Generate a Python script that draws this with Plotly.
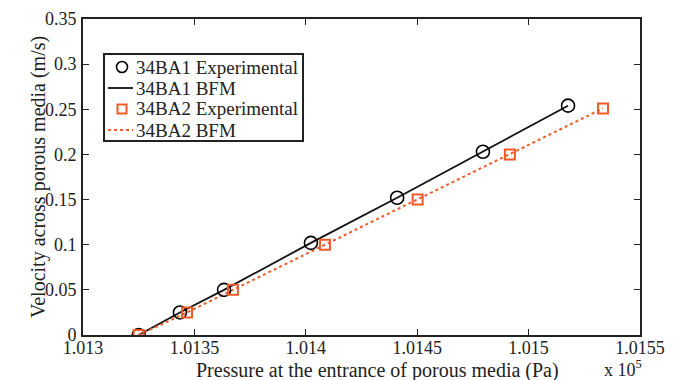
import plotly.graph_objects as go

# 34BA1 data (pressure in units of 1e5 Pa, velocity m/s)
p1 = [1.01325, 1.013435, 1.013633, 1.014023, 1.01441, 1.014795, 1.015177]
v1 = [0.0, 0.025, 0.050, 0.102, 0.152, 0.203, 0.254]
# 34BA2 data
p2 = [1.01325, 1.013467, 1.013673, 1.014086, 1.014502, 1.014916, 1.015334]
v2 = [0.0, 0.025, 0.050, 0.100, 0.150, 0.200, 0.251]

xticks = [1.013, 1.0135, 1.014, 1.0145, 1.015, 1.0155]
xticklabels = ["1.013", "1.0135", "1.014", "1.0145", "1.015", "1.0155"]
yticks = [0, 0.05, 0.1, 0.15, 0.2, 0.25, 0.3, 0.35]
yticklabels = ["0", "0.05", "0.1", "0.15", "0.2", "0.25", "0.3", "0.35"]

legend_names = ["34BA1 Experimental", "34BA1 BFM", "34BA2 Experimental", "34BA2 BFM"]

orange = "#F05A28"
font = "Liberation Serif"
ink = "#222222"

W, H = 678, 380
ML, MR, MT, MB = 83, 38, 19, 45
PW, PH = W - ML - MR, H - MT - MB


def px_x(px):
    return (px - ML) / PW


def px_y(py):
    return (H - MB - py) / PH


fig = go.Figure()
fig.add_trace(go.Scatter(x=p1, y=v1, mode="lines", name=legend_names[1],
                         line=dict(color="#111111", width=1.8)))
fig.add_trace(go.Scatter(x=p2, y=v2, mode="lines", name=legend_names[3],
                         line=dict(color=orange, width=2, dash="dot")))
fig.add_trace(go.Scatter(x=p1, y=v1, mode="markers", name=legend_names[0],
                         marker=dict(symbol="circle-open", size=13, color="black",
                                     line=dict(width=1.6, color="black"))))
fig.add_trace(go.Scatter(x=p2, y=v2, mode="markers", name=legend_names[2],
                         marker=dict(symbol="square-open", size=10, color=orange,
                                     line=dict(width=2, color=orange))))

axis_common = dict(showgrid=False, zeroline=False, showline=True, linecolor=ink,
                   linewidth=2, mirror="ticks", ticks="inside", ticklen=6,
                   tickcolor=ink, tickwidth=1, automargin=False,
                   tickfont=dict(family=font, size=18, color=ink))

fig.update_xaxes(range=[1.013, 1.0155], tickvals=xticks, ticktext=xticklabels,
                 ticklabelstandoff=-5, **axis_common)
fig.update_yaxes(range=[0, 0.35], tickvals=yticks, ticktext=yticklabels,
                 ticklabelstandoff=1, **axis_common)

fig.add_annotation(x=px_x(38), y=px_y(177), xref="paper", yref="paper",
                   xanchor="center", yanchor="middle", showarrow=False, textangle=-90,
                   text="Velocity across porous media (m/s)",
                   font=dict(family=font, size=20, color=ink))
fig.add_annotation(x=px_x(377), y=px_y(370), xref="paper", yref="paper",
                   xanchor="center", yanchor="middle", showarrow=False,
                   text="Pressure at the entrance of porous media (Pa)",
                   font=dict(family=font, size=20, color=ink))
fig.add_annotation(x=px_x(644), y=px_y(368), xref="paper", yref="paper",
                   xanchor="right", yanchor="middle", showarrow=False,
                   text="x 10<sup>5</sup>", font=dict(family=font, size=18, color=ink))

# Custom legend box (compact spacing as in the reference)
shapes = [dict(type="rect", xref="paper", yref="paper",
               x0=px_x(104), x1=px_x(303), y0=px_y(141), y1=px_y(54),
               line=dict(color=ink, width=2), fillcolor="white", layer="above")]
rows = [67, 88, 109, 130]
r = 5.5
shapes.append(dict(type="circle", xref="paper", yref="paper",
                   x0=px_x(122 - r), x1=px_x(122 + r), y0=px_y(rows[0] + r), y1=px_y(rows[0] - r),
                   line=dict(color="black", width=1.6), layer="above"))
shapes.append(dict(type="line", xref="paper", yref="paper",
                   x0=px_x(108), x1=px_x(133), y0=px_y(rows[1]), y1=px_y(rows[1]),
                   line=dict(color="#111111", width=1.8), layer="above"))
s = 4.5
shapes.append(dict(type="rect", xref="paper", yref="paper",
                   x0=px_x(122 - s), x1=px_x(122 + s), y0=px_y(rows[2] + s), y1=px_y(rows[2] - s),
                   line=dict(color=orange, width=2), layer="above"))
shapes.append(dict(type="line", xref="paper", yref="paper",
                   x0=px_x(108), x1=px_x(133), y0=px_y(rows[3]), y1=px_y(rows[3]),
                   line=dict(color=orange, width=2, dash="dot"), layer="above"))

for name, ry in zip(legend_names, rows):
    fig.add_annotation(x=px_x(134), y=px_y(ry), xref="paper", yref="paper",
                       xanchor="left", yanchor="middle", showarrow=False,
                       text=name, font=dict(family=font, size=19, color=ink))

fig.update_layout(
    width=W, height=H,
    margin=dict(l=ML, r=MR, t=MT, b=MB),
    plot_bgcolor="white", paper_bgcolor="white",
    font=dict(family=font, size=18, color=ink),
    showlegend=False,
    shapes=shapes,
)

fig.write_html("out.html")
